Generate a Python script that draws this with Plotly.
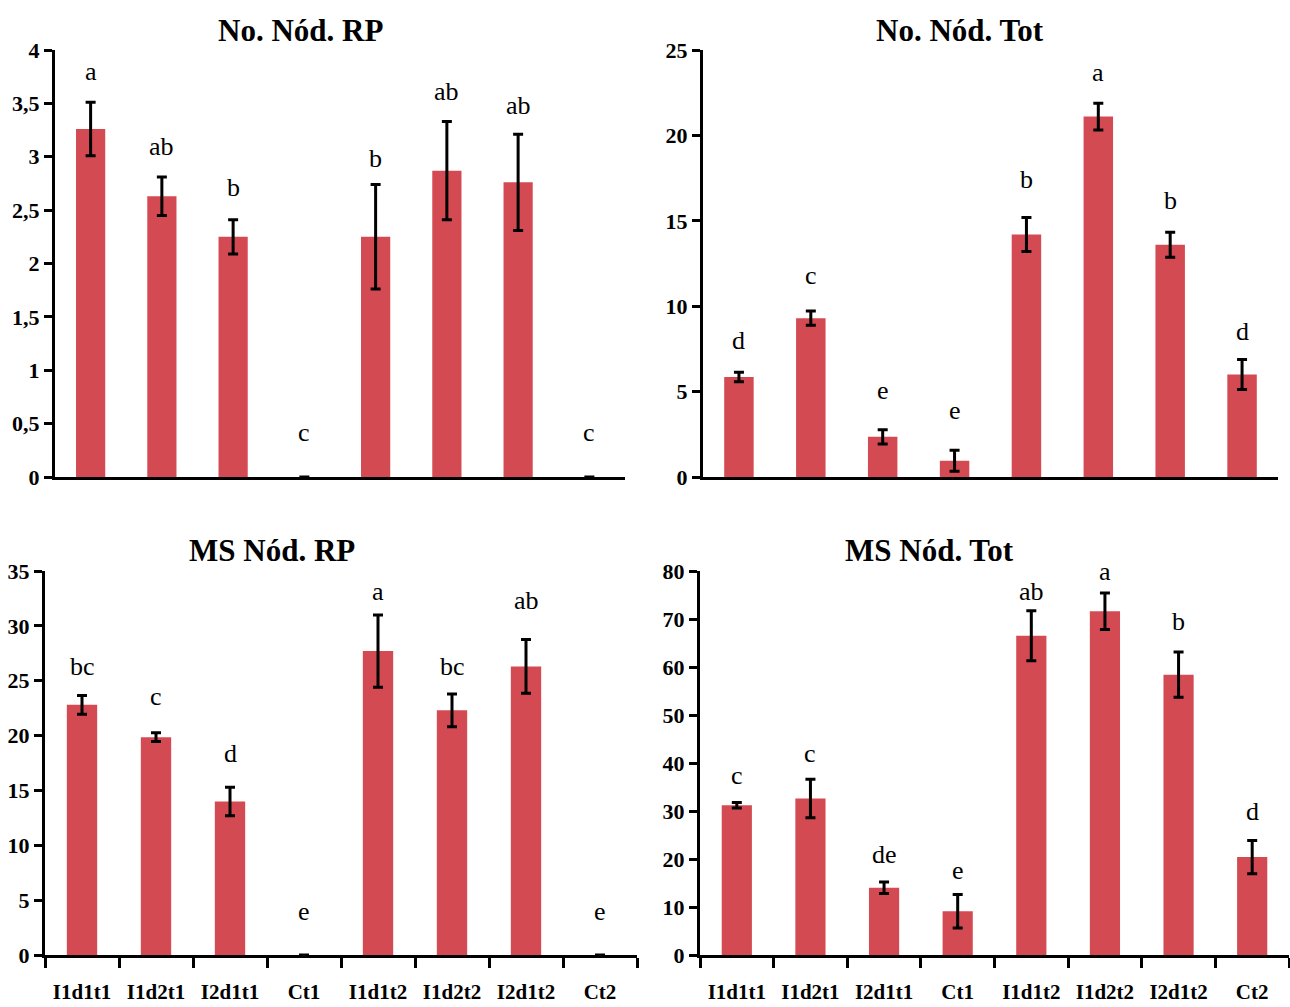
import plotly.graph_objects as go

categories = ["I1d1t1", "I1d2t1", "I2d1t1", "Ct1", "I1d1t2", "I1d2t2", "I2d1t2", "Ct2"]

# Panel 1: No. Nód. RP
no_rp_vals = [3.26, 2.63, 2.25, 0, 2.25, 2.87, 2.76, 0]
no_rp_err = [0.25, 0.18, 0.16, 0, 0.49, 0.46, 0.45, 0]
no_rp_letters = ["a", "ab", "b", "c", "b", "ab", "ab", "c"]
no_rp_letter_y = [3.80, 3.10, 2.71, 0.42, 2.98, 3.61, 3.48, 0.42]

# Panel 2: No. Nód. Tot
no_tot_vals = [5.85, 9.3, 2.35, 0.95, 14.2, 21.1, 13.6, 6.0]
no_tot_err = [0.28, 0.42, 0.42, 0.62, 1.0, 0.78, 0.73, 0.88]
no_tot_letters = ["d", "c", "e", "e", "b", "a", "b", "d"]
no_tot_letter_y = [8.0, 11.8, 5.08, 3.88, 17.4, 23.7, 16.2, 8.5]

# Panel 3: MS Nód. RP
ms_rp_vals = [22.8, 19.85, 14.0, 0, 27.7, 22.3, 26.3, 0]
ms_rp_err = [0.85, 0.4, 1.3, None, 3.3, 1.5, 2.45, None]
ms_rp_letters = ["bc", "c", "d", "e", "a", "bc", "ab", "e"]
ms_rp_letter_y = [26.3, 23.6, 18.4, 4.0, 33.1, 26.3, 32.3, 4.0]

# Panel 4: MS Nód. Tot
ms_tot_vals = [31.2, 32.6, 14.0, 9.1, 66.5, 71.6, 58.4, 20.4]
ms_tot_err = [0.55, 4.0, 1.2, 3.5, 5.2, 3.8, 4.7, 3.45]
ms_tot_letters = ["c", "c", "de", "e", "ab", "a", "b", "d"]
ms_tot_letter_y = [37.5, 41.9, 21.0, 17.7, 75.8, 80.0, 69.4, 29.8]

titles = ["No. Nód. RP", "No. Nód. Tot", "MS Nód. RP", "MS Nód. Tot"]
y_max = [4, 25, 35, 80]
y_dtick = [0.5, 5, 5, 10]

BAR = "#D34A53"
W, H = 1290, 1007

panels = [
    (no_rp_vals, no_rp_err, no_rp_letters, no_rp_letter_y),
    (no_tot_vals, no_tot_err, no_tot_letters, no_tot_letter_y),
    (ms_rp_vals, ms_rp_err, ms_rp_letters, ms_rp_letter_y),
    (ms_tot_vals, ms_tot_err, ms_tot_letters, ms_tot_letter_y),
]

# plot areas in pixels (left, right, top, bottom)
boxes = [(55, 625, 50, 477), (703, 1278, 50, 477), (45, 637, 571, 955), (700, 1289, 571, 955)]
title_pos = [(300, 30), (960, 30), (272, 550), (930, 550)]

fig = go.Figure()
annotations = []
for i, (vals, err, letters, ly) in enumerate(panels):
    n = i + 1
    xa = "x" if n == 1 else f"x{n}"
    ya = "y" if n == 1 else f"y{n}"
    fig.add_trace(go.Bar(
        x=categories, y=vals, xaxis=xa, yaxis=ya,
        marker=dict(color=BAR, line=dict(width=0)),
        error_y=dict(type="data", array=err, visible=True, color="black", thickness=3, width=5),
        showlegend=False, hoverinfo="skip",
    ))
    l, r, t, b = boxes[i]
    bottom = i >= 2
    xkey = "xaxis" if n == 1 else f"xaxis{n}"
    ykey = "yaxis" if n == 1 else f"yaxis{n}"
    fig.layout[xkey] = dict(
        domain=[l / W, r / W], anchor=ya, type="category",
        categoryorder="array", categoryarray=categories,
        showline=True, linecolor="black", linewidth=3,
        showgrid=False, zeroline=False, automargin=False,
        ticks="outside" if bottom else "", tickson="boundaries",
        ticklen=10, tickwidth=2.5, tickcolor="black",
        showticklabels=bottom, ticklabelstandoff=16,
        tickfont=dict(family="Liberation Serif", size=21, color="black", weight="bold"),
        range=[-0.5, 7.5], fixedrange=True,
    )
    fig.layout[ykey] = dict(
        domain=[1 - b / H, 1 - t / H], anchor=xa,
        range=[0, y_max[i]], dtick=y_dtick[i], tick0=0,
        showline=True, linecolor="black", linewidth=3,
        showgrid=False, zeroline=False, automargin=False,
        ticks="outside", ticklen=8, tickwidth=2.5, tickcolor="black",
        tickfont=dict(family="Liberation Serif", size=22, color="black", weight="bold"),
        fixedrange=True,
    )
    for c, txt, yy in zip(categories, letters, ly):
        annotations.append(dict(
            x=c, y=yy, xref=xa, yref=ya, text=txt, showarrow=False,
            font=dict(family="Liberation Serif", size=26, color="black"),
            xanchor="center", yanchor="middle",
        ))
    tx, ty = title_pos[i]
    annotations.append(dict(
        x=tx / W, y=1 - ty / H, xref="paper", yref="paper", text=titles[i],
        showarrow=False, xanchor="center", yanchor="middle",
        font=dict(family="Liberation Serif", size=31, color="black", weight="bold"),
    ))

fig.update_layout(
    width=W, height=H, margin=dict(l=0, r=0, t=0, b=0, autoexpand=False),
    paper_bgcolor="white", plot_bgcolor="white",
    bargap=0.59, separators=",.",
    annotations=annotations,
)

fig.write_html(
    "out.html",
    config={"displayModeBar": False},
    post_script="document.body.style.margin='0px';document.body.style.padding='0px';document.body.style.overflow='hidden';",
)
